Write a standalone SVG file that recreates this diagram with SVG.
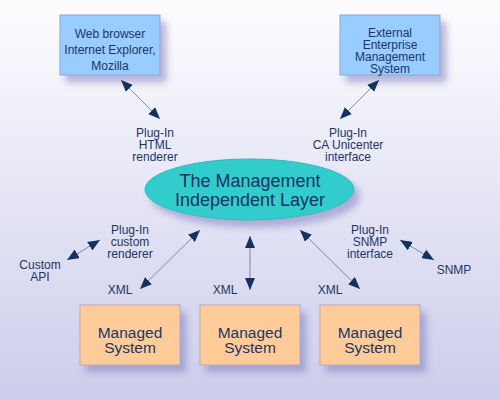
<svg xmlns="http://www.w3.org/2000/svg" width="500" height="400" viewBox="0 0 500 400">
<defs>
<linearGradient id="bg" x1="0" y1="0" x2="0" y2="1">
<stop offset="0" stop-color="#fdfdff"/>
<stop offset="1" stop-color="#cdcdec"/>
</linearGradient>
<filter id="sh" x="-20%" y="-20%" width="150%" height="160%">
<feDropShadow dx="6" dy="7" stdDeviation="3.5" flood-color="#8080c0" flood-opacity="0.55"/>
</filter>
<marker id="ah" viewBox="0 0 12 10" refX="12" refY="5" markerWidth="12" markerHeight="10" markerUnits="userSpaceOnUse" orient="auto-start-reverse">
<path d="M0,0 L12,5 L0,10 Z" fill="#13325f"/>
</marker>
<style>
text{font-family:"Liberation Sans",Arial,sans-serif;fill:#1b3564;text-anchor:middle}
.s{font-size:12px}
.m{font-size:15.5px}
.l{font-size:18px}
.blue{fill:#99ccff;stroke:#8fa3d6;stroke-width:1}
.org{fill:#ffcc99;stroke:#b8a8b8;stroke-width:1}
.con line{stroke:#6a6f8a;stroke-width:0.8;marker-start:url(#ah);marker-end:url(#ah)}
</style>
</defs>
<rect width="500" height="400" fill="url(#bg)"/>
<g id="web">
<rect class="blue" x="60" y="15" width="100" height="60" filter="url(#sh)"/>
<text class="s" x="110" y="38">Web browser</text>
<text class="s" x="110" y="54">Internet Explorer,</text>
<text class="s" x="110" y="70">Mozilla</text>
</g>
<g id="external">
<rect class="blue" x="340" y="15" width="100" height="60" filter="url(#sh)"/>
<text class="s" x="390" y="36.5">External</text>
<text class="s" x="390" y="48.5">Enterprise</text>
<text class="s" x="390" y="60.5">Management</text>
<text class="s" x="390" y="72.5">System</text>
</g>
<g id="layer">
<ellipse cx="249.5" cy="189.5" rx="104.5" ry="30.5" fill="#33cccc" stroke="#2fb9c0" stroke-width="1" filter="url(#sh)"/>
<text class="l" x="250" y="186.5">The Management</text>
<text class="l" x="250" y="205.5">Independent Layer</text>
</g>
<g id="ms1">
<rect class="org" x="80" y="305" width="100" height="60" filter="url(#sh)"/>
<text class="m" x="130" y="337.5">Managed</text>
<text class="m" x="130" y="352.5">System</text>
</g>
<g id="ms2">
<rect class="org" x="200" y="305" width="100" height="60" filter="url(#sh)"/>
<text class="m" x="250" y="337.5">Managed</text>
<text class="m" x="250" y="352.5">System</text>
</g>
<g id="ms3">
<rect class="org" x="320" y="305" width="100" height="60" filter="url(#sh)"/>
<text class="m" x="370" y="337.5">Managed</text>
<text class="m" x="370" y="352.5">System</text>
</g>
<g id="labels">
<text class="s" x="155" y="137">Plug-In</text>
<text class="s" x="155" y="149">HTML</text>
<text class="s" x="155" y="161">renderer</text>
<text class="s" x="348" y="137">Plug-In</text>
<text class="s" x="348" y="149">CA Unicenter</text>
<text class="s" x="348" y="161">interface</text>
<text class="s" x="130" y="234">Plug-In</text>
<text class="s" x="130" y="246">custom</text>
<text class="s" x="130" y="258">renderer</text>
<text class="s" x="40" y="269">Custom</text>
<text class="s" x="40" y="281">API</text>
<text class="s" x="370" y="234">Plug-In</text>
<text class="s" x="370" y="246">SNMP</text>
<text class="s" x="370" y="258">interface</text>
<text class="s" x="454" y="274">SNMP</text>
<text class="s" x="120" y="294">XML</text>
<text class="s" x="225" y="294">XML</text>
<text class="s" x="330" y="294">XML</text>
</g>
<g id="connectors" class="con">
<line x1="121" y1="80" x2="160" y2="119"/>
<line x1="379" y1="80" x2="340" y2="119"/>
<line x1="67" y1="260" x2="100" y2="240"/>
<line x1="140" y1="289" x2="200" y2="230"/>
<line x1="250" y1="236" x2="250" y2="290"/>
<line x1="300" y1="230" x2="360" y2="289"/>
<line x1="400" y1="240" x2="434" y2="260"/>
</g>
</svg>
